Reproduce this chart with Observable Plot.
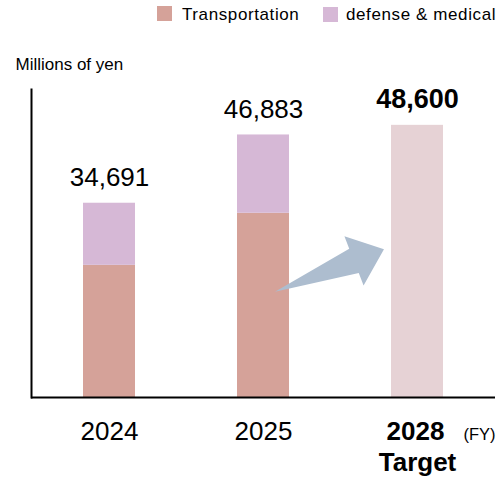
<!DOCTYPE html>
<html><head><meta charset="utf-8">
<script src="https://cdn.jsdelivr.net/npm/d3@7"></script>
<script src="https://cdn.jsdelivr.net/npm/@observablehq/plot@0.6"></script>
<style>
body{margin:0;background:#fff;font-family:"Liberation Sans",Arial,sans-serif;}
#wrap{position:relative;width:498px;height:477px;overflow:hidden;}
#wrap svg{position:absolute;left:0;top:0;}
.legend{position:absolute;left:0;top:0;width:498px;height:30px;font-size:17px;letter-spacing:0.6px;color:#000;z-index:2;}
.item{position:absolute;white-space:nowrap;line-height:17px;}
.sw{position:absolute;width:15px;height:15px;}
</style></head><body><div id="wrap"></div>
<script>
// ---- data ----
const years = ["2024", "2025", "2028"];
const segments = ["Transportation", "defense & medical"];
const transportation = [23600, 32900];
const defenseMedical = [11091, 13983];
const totals = [34691, 46883];
const targetYear = "2028";
const targetValue = 48600;
const tickLabels = ["2024", "2025", "2028"];
const targetNote = "Target";
const unitLabel = "Millions of yen";
const fyLabel = "(FY)";
const arrowFrom = {year: "2025", value: 18800};
const arrowTo = {year: "2028", value: 26400};

const colors = ["#d5a299", "#d6b8d6"];
const targetColor = "#e6d2d5";
const arrowColor = "#adbdcf";

const fmt = d3.format(",");

const stacked = years.slice(0, 2).flatMap((y, i) => [
  {year: y, segment: segments[0], value: transportation[i]},
  {year: y, segment: segments[1], value: defenseMedical[i]}
]);
const totalsData = totals.map((t, i) => ({year: years[i], total: t}));
const targetData = [{year: targetYear, value: targetValue}];

function arrowMark(index, scales) {
  const x = scales.x, y = scales.y;
  const bw = typeof x.bandwidth === "function" ? x.bandwidth() : (x.bandwidth ?? scales.scales.x.bandwidth);
  const x0 = x(arrowFrom.year) + bw * 0.73, y0 = y(arrowFrom.value);
  const x1 = x(arrowTo.year) - bw * 0.135, y1 = y(arrowTo.value);
  const dx = x1 - x0, dy = y1 - y0, L = Math.hypot(dx, dy);
  const ux = dx / L, uy = dy / L, nx = -uy, ny = ux;
  const P = (t, s) => [x0 + ux * t * L + nx * s * L, y0 + uy * t * L + ny * s * L];
  const t = 0.725, sw = 0.112, hw = 0.225;
  const pts = [P(0, 0), P(t, -sw), P(t, -hw), P(1, 0), P(t, hw), P(t, sw)];
  const g = d3.create("svg:g");
  g.append("path").attr("d", "M" + pts.map(p => p.join(",")).join("L") + "Z").attr("fill", arrowColor);
  return g.node();
}

const chart = Plot.plot({
  width: 498,
  height: 477,
  marginLeft: 31,
  marginRight: 3,
  marginTop: 89,
  marginBottom: 80,
  style: {fontFamily: '"Liberation Sans", Arial, sans-serif', background: "transparent", color: "#000"},
  x: {domain: years, paddingInner: 0.665, paddingOuter: 0.33, axis: null},
  y: {domain: [0, 55000], axis: null},
  color: {domain: segments, range: colors},
  marks: [
    Plot.barY(stacked, {x: "year", y: "value", fill: "segment"}),
    Plot.barY(targetData, {x: "year", y: "value", fill: targetColor}),
    arrowMark,
    Plot.ruleY([0], {stroke: "#000", strokeWidth: 2}),
    Plot.frame({anchor: "left", stroke: "#000", strokeWidth: 2}),
    Plot.text(totalsData, {x: "year", y: "total", text: d => fmt(d.total), dy: -17, lineAnchor: "bottom", fontSize: 26}),
    Plot.text(targetData, {x: "year", y: "value", text: d => fmt(d.value), dy: -17, lineAnchor: "bottom", fontSize: 27, fontWeight: "bold"}),
    Plot.text(tickLabels.filter(d => d !== targetYear), {x: d => d, frameAnchor: "bottom", dy: 42, lineAnchor: "bottom", fontSize: 26}),
    Plot.text(tickLabels.filter(d => d === targetYear), {x: d => d, frameAnchor: "bottom", dx: -2, dy: 42, lineAnchor: "bottom", fontSize: 26, fontWeight: "bold"}),
    Plot.text([targetNote], {x: () => targetYear, frameAnchor: "bottom", dy: 73, lineAnchor: "bottom", fontSize: 26, fontWeight: "bold"}),
    Plot.text([fyLabel], {frameAnchor: "bottom-right", dy: 42, lineAnchor: "bottom", textAnchor: "end", fontSize: 16.5}),
    Plot.text([unitLabel], {frameAnchor: "top-left", dx: -16, dy: -20, lineAnchor: "bottom", textAnchor: "start", fontSize: 17})
  ]
});

const wrap = document.getElementById("wrap");
wrap.appendChild(chart);

// legend
const legend = document.createElement("div");
legend.className = "legend";
const legendPos = [{sw: 157, swTop: 6, tx: 182}, {sw: 323, swTop: 7, tx: 346}];
segments.forEach((s, i) => {
  const sq = document.createElement("div");
  sq.className = "sw";
  sq.style.left = legendPos[i].sw + "px";
  sq.style.top = legendPos[i].swTop + "px";
  sq.style.background = colors[i];
  legend.appendChild(sq);
  const tx = document.createElement("div");
  tx.className = "item";
  tx.style.left = legendPos[i].tx + "px";
  tx.style.top = "5.5px";
  tx.textContent = s;
  legend.appendChild(tx);
});
wrap.appendChild(legend);
</script>
</body></html>
